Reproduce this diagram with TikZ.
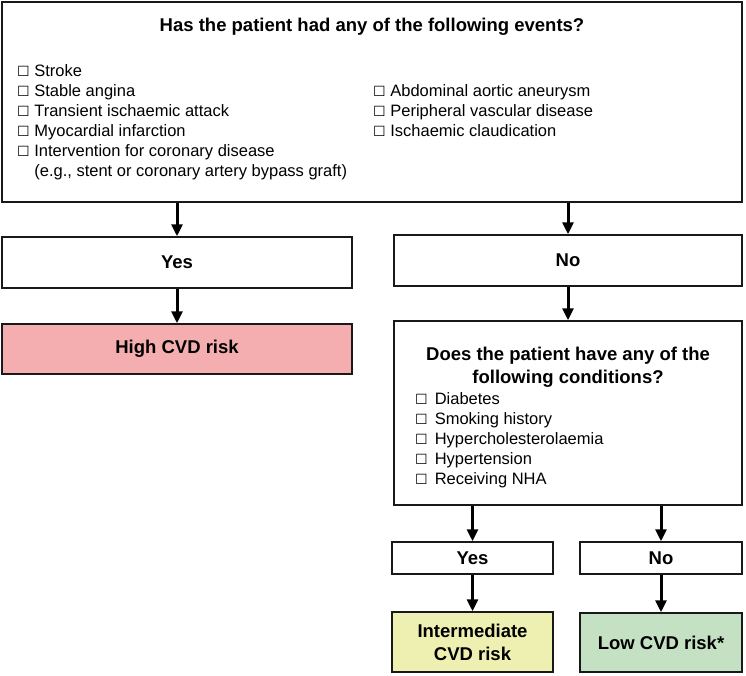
\documentclass[tikz,border=0pt]{standalone}
\usepackage{fontspec}
\setmainfont{Liberation Sans}
\newfontfamily\symfont{DejaVu Sans}
\usetikzlibrary{arrows.meta}
\definecolor{highpink}{HTML}{F4AEB0}
\definecolor{midyellow}{HTML}{EEF0B2}
\definecolor{lowgreen}{HTML}{C4E1C4}
\newcommand{\chk}{{\symfont\scalebox{0.85}{☐}}}
\tikzstyle{flowbox}=[draw=black!90,line width=1.5pt,inner sep=0pt,
                     align=center,font=\fontsize{18.5}{23}\selectfont\bfseries]
\tikzstyle{itemlist}=[inner sep=0pt,anchor=north west,align=left,
                      font=\fontsize{16.5}{20}\selectfont]
\tikzstyle{flowarrow}=[line width=3pt,-{Triangle[width=11pt,length=12pt]}]

\begin{document}
\begin{tikzpicture}[x=1pt,y=-1pt]
    \useasboundingbox (0,0) rectangle (746,675);
    % first question
    \node (events) at (372,102) [flowbox,minimum width=740pt,minimum height=200pt]{};
    \node (evtitle) at (372,27) [font=\fontsize{18.5}{23}\selectfont\bfseries]
      {Has the patient had any of the following events?};
    \node (evleft) at (17,64) [itemlist]{\chk\ Stroke\\ \chk\ Stable angina\\
      \chk\ Transient ischaemic attack\\ \chk\ Myocardial infarction\\
      \chk\ Intervention for coronary disease\\
      \hphantom{\chk\ }(e.g., stent or coronary artery bypass graft)};
    \node (evright) at (373,84) [itemlist]{\chk\ Abdominal aortic aneurysm\\
      \chk\ Peripheral vascular disease\\ \chk\ Ischaemic claudication};
    % answers
    \node (yes1) at (177,262.5) [flowbox,minimum width=350pt,minimum height=51pt]{Yes};
    \node (no1) at (568,260.5) [flowbox,minimum width=348pt,minimum height=51pt]{No};
    \node (high) at (177,349) [flowbox,fill=highpink,minimum width=350pt,minimum height=50pt]{High CVD risk};
    % second question
    \node (cond) at (568,413) [flowbox,minimum width=348pt,minimum height=184pt]{};
    \node (condtitle) at (568,367) [align=center,font=\fontsize{18.5}{23}\selectfont\bfseries]
      {Does the patient have any of the\\ following conditions?};
    \node (condlist) at (415,392) [itemlist]{\chk\hspace{7pt}Diabetes\\
      \chk\hspace{7pt}Smoking history\\ \chk\hspace{7pt}Hypercholesterolaemia\\
      \chk\hspace{7pt}Hypertension\\ \chk\hspace{7pt}Receiving NHA};
    \node (yes2) at (472.5,558) [flowbox,minimum width=161pt,minimum height=32pt]{Yes};
    \node (no2) at (661,558) [flowbox,minimum width=162pt,minimum height=32pt]{No};
    \node (inter) at (472.5,642) [flowbox,fill=midyellow,minimum width=161pt,minimum height=60pt]
      {Intermediate\\ CVD risk};
    \node (low) at (661,642.5) [flowbox,fill=lowgreen,minimum width=162pt,minimum height=59pt]
      {Low CVD risk*};
    \draw[flowarrow] (events.south -| yes1.north) -- (yes1.north);
    \draw[flowarrow] (events.south -| no1.north) -- (no1.north);
    \draw[flowarrow] (yes1.south) -- (high.north);
    \draw[flowarrow] (no1.south) -- (cond.north);
    \draw[flowarrow] (cond.south -| yes2.north) -- (yes2.north);
    \draw[flowarrow] (cond.south -| no2.north) -- (no2.north);
    \draw[flowarrow] (yes2.south) -- (inter.north);
    \draw[flowarrow] (no2.south) -- (low.north);
\end{tikzpicture}
\end{document}
